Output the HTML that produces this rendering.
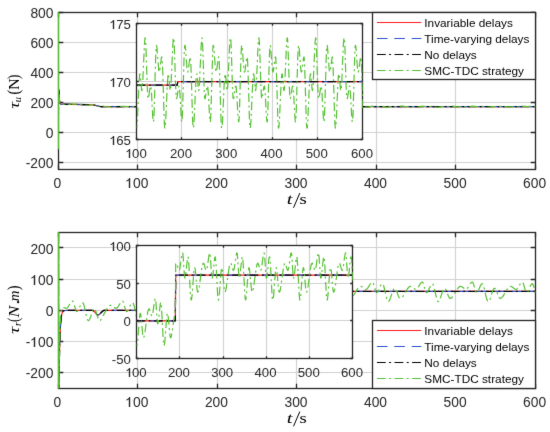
<!DOCTYPE html>
<html><head><meta charset="utf-8"><style>
html,body{margin:0;padding:0;background:#fff;}
svg{display:block;will-change:transform;}
</style></head><body>
<svg width="550" height="432" viewBox="0 0 550 432">
<defs>
<filter id="soft" x="0" y="0" width="550" height="432" filterUnits="userSpaceOnUse" color-interpolation-filters="sRGB"><feConvolveMatrix order="3" kernelMatrix="0.01 0.06 0.01 0.06 0.72 0.06 0.01 0.06 0.01" edgeMode="duplicate" preserveAlpha="true"/></filter>
<clipPath id="ctop"><rect x="58.2" y="12.2" width="477.2" height="157.5"/></clipPath>
<clipPath id="cbot"><rect x="58.2" y="232.3" width="477.2" height="156"/></clipPath>
<clipPath id="ctopin"><rect x="136.6" y="23.7" width="226.2" height="116"/></clipPath>
<clipPath id="cbotin"><rect x="136.5" y="245.7" width="216.3" height="112.65"/></clipPath>
</defs>
<g filter="url(#soft)">
<rect width="550" height="432" fill="#fff"/>
<line x1="137.5" y1="12.5" x2="137.5" y2="169.5" stroke="#d2d2d2" stroke-width="1.2"/>
<line x1="217.5" y1="12.5" x2="217.5" y2="169.5" stroke="#d2d2d2" stroke-width="1.2"/>
<line x1="296.5" y1="12.5" x2="296.5" y2="169.5" stroke="#d2d2d2" stroke-width="1.2"/>
<line x1="376.5" y1="12.5" x2="376.5" y2="169.5" stroke="#d2d2d2" stroke-width="1.2"/>
<line x1="455.5" y1="12.5" x2="455.5" y2="169.5" stroke="#d2d2d2" stroke-width="1.2"/>
<line x1="58.5" y1="162.5" x2="535.5" y2="162.5" stroke="#d2d2d2" stroke-width="1.2"/>
<line x1="58.5" y1="132.5" x2="535.5" y2="132.5" stroke="#d2d2d2" stroke-width="1.2"/>
<line x1="58.5" y1="102.5" x2="535.5" y2="102.5" stroke="#d2d2d2" stroke-width="1.2"/>
<line x1="58.5" y1="72.5" x2="535.5" y2="72.5" stroke="#d2d2d2" stroke-width="1.2"/>
<line x1="58.5" y1="42.5" x2="535.5" y2="42.5" stroke="#d2d2d2" stroke-width="1.2"/>
<path d="M58.5 169.5V164.7M58.5 12.5V17.3M137.5 169.5V164.7M137.5 12.5V17.3M217.5 169.5V164.7M217.5 12.5V17.3M296.5 169.5V164.7M296.5 12.5V17.3M376.5 169.5V164.7M376.5 12.5V17.3M455.5 169.5V164.7M455.5 12.5V17.3M535.5 169.5V164.7M535.5 12.5V17.3M58.5 162.5H63.3M535.5 162.5H530.7M58.5 132.5H63.3M535.5 132.5H530.7M58.5 102.5H63.3M535.5 102.5H530.7M58.5 72.5H63.3M535.5 72.5H530.7M58.5 42.5H63.3M535.5 42.5H530.7M58.5 12.5H63.3M535.5 12.5H530.7" stroke="#262626" stroke-width="1.3" fill="none"/>
<rect x="58.5" y="12.5" width="477" height="157" fill="none" stroke="#262626" stroke-width="1.3"/>
<g fill="none" stroke-width="1.2" stroke-linejoin="round" clip-path="url(#ctop)">
<defs><path id="n1" d="M58.2 90L59 90L59.4 99L59.8 102.3L60.2 103.5L60.6 104L61 104.1L92.4 104.8L94.4 105.1L99.6 106.5L101.5 106.7L535.4 106.7"/></defs>
<use href="#n1" stroke="#ff1a1a"/>
<use href="#n1" stroke="#2d50c8" stroke-dasharray="10.6 6.8" stroke-dashoffset="3"/>
<use href="#n1" stroke="#000000" stroke-dasharray="8.8 3.4 2.0 3.4" stroke-dashoffset="0"/>
<path d="M58.2 12.2L58.4 148.7L58.7 87.2L59 90.2L59.3 98.4L59.7 101.8L60 103.3L60.4 103.9L60.7 104.1L67.5 104.8L68.5 104.7L71.2 104L72.3 103.9L77.4 104.4L82.1 104.3L83.5 104.5L86.2 105.2L87.6 105.3L89.3 105.2L92 104.8L93 104.8L94.4 105L96.8 105.9L98.1 106.2L99.8 106.3L103.2 106.2L107.7 107L112.8 106.8L117.5 107.3L118.9 107.1L121.6 106.4L123 106.3L127.4 106.6L132.5 106.4L136.2 107.2L137.6 107.3L142.7 106.7L147.5 106.8L151.6 106.3L152.9 106.2L153.9 106.3L157.3 106.9L162.8 106.8L167.2 107.3L168.6 107.1L171 106.5L172.3 106.3L177.4 106.6L182.2 106.4L183.5 106.6L186.3 107.2L187.6 107.3L192.7 106.7L197.5 106.8L201.6 106.2L202.9 106.2L207.4 107L212.8 106.8L217.2 107.2L218.6 107.1L221.3 106.4L222.7 106.2L227.1 106.6L232.5 106.4L235.9 107.1L237.3 107.3L238.7 107.2L243.1 106.6L246.5 106.8L247.9 106.8L252.6 106.1L254 106.2L257.4 106.9L262.8 106.8L267.3 107.2L268.6 107.1L271 106.4L272.4 106.2L277.1 106.6L282.2 106.4L283.6 106.6L286 107.2L287.3 107.3L288.7 107.2L293.1 106.6L297.5 106.8L302.6 106.1L304 106.2L307.4 106.9L312.5 106.8L317.3 107.2L318.6 107.1L322 106.2L327.1 106.6L332.2 106.4L333.6 106.6L336 107.2L337.4 107.3L338.7 107.2L342.8 106.6L347.6 106.8L351.3 106.2L352.7 106.1L354 106.3L357.1 106.9L362.5 106.8L367 107.2L368.3 107.1L372.1 106.2L377.2 106.6L382.3 106.4L383.6 106.6L386 107.2L387.4 107.3L388.7 107.2L392.5 106.6L393.8 106.6L397.2 106.8L401.3 106.2L402.7 106.1L404 106.3L407.1 106.9L412.6 106.8L417 107.2L418.3 107.1L421.1 106.4L422.1 106.2L427.2 106.6L432.3 106.4L433.3 106.5L436 107.2L437.4 107.3L438.8 107.2L442.5 106.6L447.3 106.8L451.3 106.2L452.7 106.1L454.1 106.3L457.1 106.9L462.6 106.8L467 107.2L468.4 107.1L471.1 106.4L472.1 106.2L477.2 106.6L482 106.4L483.3 106.5L486.1 107.2L487.4 107.3L492.5 106.6L497.3 106.8L501.4 106.2L502.7 106.1L503.8 106.2L507.2 106.9L512.6 106.8L516.7 107.2L518 107.1L521.1 106.4L522.5 106.2L527.2 106.6L532.3 106.4L535.4 107.1" stroke="#55c032" stroke-dasharray="8.8 3.4 2.0 3.4" stroke-dashoffset="6"/>
</g>
<line x1="58.5" y1="12.2" x2="58.5" y2="148.3" stroke="#55c032" stroke-width="1.1"/>
<rect x="136.5" y="23.5" width="226" height="116" fill="#fff"/>
<line x1="181.5" y1="23.5" x2="181.5" y2="139.5" stroke="#d2d2d2" stroke-width="1.2"/>
<line x1="227.5" y1="23.5" x2="227.5" y2="139.5" stroke="#d2d2d2" stroke-width="1.2"/>
<line x1="272.5" y1="23.5" x2="272.5" y2="139.5" stroke="#d2d2d2" stroke-width="1.2"/>
<line x1="317.5" y1="23.5" x2="317.5" y2="139.5" stroke="#d2d2d2" stroke-width="1.2"/>
<line x1="136.5" y1="81.5" x2="362.5" y2="81.5" stroke="#d2d2d2" stroke-width="1.2"/>
<path d="M136.5 139.5V137.2M136.5 23.5V25.8M181.5 139.5V137.2M181.5 23.5V25.8M227.5 139.5V137.2M227.5 23.5V25.8M272.5 139.5V137.2M272.5 23.5V25.8M317.5 139.5V137.2M317.5 23.5V25.8M362.5 139.5V137.2M362.5 23.5V25.8M136.5 139.5H138.8M362.5 139.5H360.2M136.5 81.5H138.8M362.5 81.5H360.2M136.5 23.5H138.8M362.5 23.5H360.2" stroke="#262626" stroke-width="1.3" fill="none"/>
<rect x="136.5" y="23.5" width="226" height="116" fill="none" stroke="#262626" stroke-width="1.3"/>
<g fill="none" stroke-width="1.2" stroke-linejoin="round" clip-path="url(#ctopin)">
<defs><path id="n2" d="M136.6 85.2L177 85.2L177.2 85.1L177.8 81.7L362.8 81.7"/></defs>
<use href="#n2" stroke="#ff1a1a"/>
<use href="#n2" stroke="#2d50c8" stroke-dasharray="10.6 6.8" stroke-dashoffset="3"/>
<use href="#n2" stroke="#000000" stroke-dasharray="8.8 3.4 2.0 3.4" stroke-dashoffset="0"/>
<path d="M136.6 127.8L137 125L137.4 119.4L138.9 85.4L139.5 76.1L139.8 73.8L140 73.8L140.1 74.2L140.5 77.4L141.5 89.3L141.8 90.6L142 90.4L142.1 89.8L142.4 86.9L142.8 80.8L144.4 45.2L144.8 39.3L145 38L145.2 37.8L145.5 39.5L145.9 46.1L147.2 85.5L147.8 97.3L148 98.7L148.2 98.6L148.4 98L148.9 95.6L150.1 87.3L150.5 86L150.7 86L150.9 86.5L151.5 93L152.7 116.6L153.1 120.7L153.4 121.9L153.6 121.5L153.7 120.3L154.1 113.2L155.6 59L156 49.6L156.3 45.8L156.4 45.3L156.7 45.7L157 48.1L158.5 67.3L158.8 70.7L159.1 71.9L159.3 72L159.4 71.8L159.8 70.2L161.3 58.3L161.6 57.1L161.8 56.9L161.9 57.1L162.3 61.2L162.7 70L164.2 120L164.6 126.5L164.7 127.7L164.9 128.1L165 127.8L165.3 126.4L165.7 120.7L167.3 85.4L167.9 76.1L168.3 73.8L168.4 73.8L168.6 74.2L168.9 77.4L169.9 89.3L170.2 90.6L170.4 90.4L170.5 89.8L170.8 86.9L171.2 80.8L172.8 45.2L173.2 39.3L173.5 38L173.6 37.8L173.9 39.5L174.3 46.1L175.6 85.5L176.2 97.4L176.4 98.7L176.6 98.6L176.9 98L177.3 95.6L178.5 87.3L179 86L179.1 86L179.3 86.5L179.9 93.1L181.2 116.7L181.5 120.7L181.8 121.9L182 121.5L182.1 120.3L182.5 113.2L184 59L184.4 49.6L184.7 45.8L184.9 45.3L185.1 45.7L185.5 48.2L186.9 67.3L187.3 70.7L187.6 71.9L187.7 72L187.9 71.8L188.2 70.2L189.8 58.3L190.1 57.1L190.2 56.9L190.4 57.1L190.7 61.2L191.1 70L192.6 120L193 126.5L193.2 127.7L193.3 128.1L193.5 127.8L193.7 126.4L194.1 120.7L195.7 85.4L196.3 76.1L196.7 73.8L196.8 73.8L197 74.3L197.4 77.4L198.4 89.4L198.7 90.6L198.8 90.4L199 89.8L199.3 86.9L199.6 80.8L201.2 45.1L201.7 39.3L201.9 38L202 37.8L202.3 39.5L202.7 46.2L204 85.5L204.6 97.4L204.8 98.7L205.1 98.6L205.3 98L205.7 95.6L206.9 87.3L207.4 86L207.6 86L207.7 86.5L208.3 93.1L209.6 116.7L210 120.7L210.3 121.9L210.4 121.5L210.6 120.2L210.9 113.1L212.5 58.9L212.8 49.5L213.1 45.8L213.3 45.3L213.5 45.7L213.9 48.2L215.3 67.3L215.7 70.7L216 71.9L216.1 72L216.3 71.8L216.7 70.2L218.2 58.3L218.5 57.1L218.6 56.9L218.8 57.1L219.2 61.2L219.5 70L221 120L221.4 126.5L221.6 127.8L221.7 128.1L221.9 127.8L222.1 126.4L222.6 120.6L224.1 85.4L224.7 76.1L225.1 73.8L225.3 73.8L225.4 74.3L225.8 77.4L226.8 89.4L227.1 90.6L227.2 90.4L227.4 89.8L227.7 86.9L228.1 80.8L229.6 45.1L230.1 39.3L230.3 38L230.5 37.8L230.8 39.6L231.2 46.2L232.4 85.6L233 97.4L233.3 98.7L233.5 98.6L233.7 98L234.2 95.6L235.4 87.3L235.8 86L236 86L236.1 86.5L236.7 93.1L238 116.7L238.4 120.7L238.7 121.9L238.8 121.5L239 120.2L239.4 113.1L240.9 58.9L241.3 49.5L241.6 45.4L241.8 45.3L241.9 45.7L242.3 48.2L243.7 67.3L244 70.2L244.3 71.8L244.5 72L244.7 71.8L245.1 70.2L246.7 57.9L246.9 57.1L247.1 56.9L247.4 58.1L248 70L249.4 118.2L249.8 125.6L250 127.8L250.2 128.1L250.3 127.8L250.5 126.4L251 120.6L252.6 85.4L253.2 76.1L253.5 73.8L253.7 73.8L253.8 74.3L254.2 77.4L255.2 89.4L255.5 90.6L255.7 90.4L255.8 89.7L256.1 86.9L256.5 80.8L258.1 45.1L258.5 39.3L258.7 38L258.9 37.8L259.2 39.6L259.6 46.2L260.9 85.6L261.5 97.4L261.7 98.7L261.9 98.6L262.1 98L262.6 95.6L263.8 87.3L264.3 86L264.4 86.1L264.6 86.5L265.2 93.1L266.4 116.7L266.8 120.8L267.1 121.9L267.3 121.5L267.4 120.2L267.8 113.1L269.3 58.9L269.7 49.5L270.1 45.4L270.2 45.3L270.4 45.7L270.7 48.2L272.2 67.3L272.5 70.2L272.8 71.8L272.9 72L273.1 71.8L273.5 70.2L275.1 57.9L275.3 57.1L275.6 56.9L275.8 58.1L276.4 70.1L277.8 118.2L278.2 125.6L278.4 127.8L278.6 128.1L278.7 127.8L279 126.4L279.4 120.6L281 85.4L281.6 76.1L282 73.8L282.1 73.8L282.3 74.3L282.6 77.4L283.6 89.4L283.9 90.6L284.1 90.4L284.2 89.7L284.5 86.9L284.9 80.8L286.5 45.1L286.9 39.3L287.2 38L287.3 37.8L287.6 39.6L288 46.2L289.3 85.6L289.9 97.4L290.1 98.7L290.3 98.6L290.6 98L291 95.6L292.2 87.3L292.7 86L292.8 86.1L293 86.5L293.6 93.1L294.9 116.7L295.2 120.8L295.5 121.9L295.7 121.5L295.8 120.2L296.2 113.1L297.7 58.9L298.1 49.5L298.5 45.4L298.6 45.3L298.8 45.7L299.2 48.2L300.6 67.4L300.9 70.2L301.2 71.8L301.3 72L301.6 71.7L302 70.2L303.5 57.9L303.8 57.1L304 56.9L304.2 58.1L304.8 70.1L306.2 118.2L306.6 125.7L306.9 127.8L307 128.1L307.2 127.8L307.4 126.4L307.8 120.6L309.4 85.3L310 76.1L310.4 73.8L310.5 73.8L310.7 74.3L311.1 77.4L312.1 89.4L312.4 90.6L312.5 90.4L312.7 89.7L313 86.9L313.3 80.8L314.9 45.1L315.4 39.3L315.6 38L315.8 37.8L316.1 39.6L316.4 46.2L317.7 85.6L318.3 97.4L318.5 98.7L318.8 98.6L319 98L319.4 95.6L320.7 87.3L321.1 86L321.3 86.1L321.4 86.5L322 93.1L323.3 116.7L323.6 120.2L323.9 121.8L324 121.8L324.1 121.5L324.3 120.2L324.6 113.1L326.2 58.9L326.5 49.5L326.9 45.4L327.1 45.3L327.2 45.7L327.6 48.2L329 67.4L329.3 70.2L329.6 71.8L329.8 72L330 71.7L330.4 70.2L332 57.9L332.2 57.1L332.4 56.9L332.6 58.1L333.2 70.1L334.7 118.2L335.1 125.7L335.3 127.8L335.4 128.1L335.8 126.4L336.3 120.6L337.8 85.3L338.4 76.1L338.8 73.8L339 73.8L339.1 74.3L339.5 77.5L340.5 89.4L340.8 90.6L340.9 90.4L341.1 89.7L341.4 86.9L341.8 80.7L343.3 45.1L343.8 39.3L344 38L344.2 37.8L344.5 39.6L344.9 46.2L346.1 85.6L346.7 97.4L347 98.7L347.2 98.6L347.4 98L347.9 95.6L349.1 87.3L349.5 86L349.7 86.1L349.8 86.5L350.4 93.1L351.7 116.7L352.2 121.6L352.4 121.9L352.5 121.8L352.6 121L353 114.9L354.7 56.6L355 48.2L355.3 45.7L355.4 45.3L355.7 46L356.1 48.9L357.4 67.4L357.7 70.2L358 71.8L358.2 72L358.4 71.7L358.8 70.1L360.4 57.9L360.6 57.1L360.8 56.9L361.1 58.1L361.7 70.1L362.8 109.4" stroke="#55c032" stroke-dasharray="8.8 3.4 2.0 3.4" stroke-dashoffset="6"/>
</g>
<rect x="372.5" y="12.5" width="163" height="67" fill="#fff" stroke="#262626" stroke-width="1.3"/>
<line x1="376.9" y1="22.5" x2="421.3" y2="22.5" stroke="#ff1a1a" stroke-width="1.1"/>
<text x="424.3" y="26.65" font-size="11.8" fill="#000" font-family="Liberation Sans, sans-serif">Invariable delays</text>
<line x1="376.9" y1="38.5" x2="421.3" y2="38.5" stroke="#2d50c8" stroke-width="1.1" stroke-dasharray="10.6 6.8"/>
<text x="424.3" y="42.7" font-size="11.8" fill="#000" font-family="Liberation Sans, sans-serif">Time-varying delays</text>
<line x1="376.9" y1="54.5" x2="421.3" y2="54.5" stroke="#000000" stroke-width="1.1" stroke-dasharray="8.8 3.4 2.0 3.4"/>
<text x="424.3" y="58.75" font-size="11.8" fill="#000" font-family="Liberation Sans, sans-serif">No delays</text>
<line x1="376.9" y1="70.5" x2="421.3" y2="70.5" stroke="#55c032" stroke-width="1.1" stroke-dasharray="8.8 3.4 2.0 3.4"/>
<text x="424.3" y="74.8" font-size="11.8" fill="#000" font-family="Liberation Sans, sans-serif">SMC-TDC strategy</text>
<line x1="137.5" y1="232.5" x2="137.5" y2="388.5" stroke="#d2d2d2" stroke-width="1.2"/>
<line x1="217.5" y1="232.5" x2="217.5" y2="388.5" stroke="#d2d2d2" stroke-width="1.2"/>
<line x1="296.5" y1="232.5" x2="296.5" y2="388.5" stroke="#d2d2d2" stroke-width="1.2"/>
<line x1="376.5" y1="232.5" x2="376.5" y2="388.5" stroke="#d2d2d2" stroke-width="1.2"/>
<line x1="455.5" y1="232.5" x2="455.5" y2="388.5" stroke="#d2d2d2" stroke-width="1.2"/>
<line x1="58.5" y1="372.5" x2="535.5" y2="372.5" stroke="#d2d2d2" stroke-width="1.2"/>
<line x1="58.5" y1="341.5" x2="535.5" y2="341.5" stroke="#d2d2d2" stroke-width="1.2"/>
<line x1="58.5" y1="310.5" x2="535.5" y2="310.5" stroke="#d2d2d2" stroke-width="1.2"/>
<line x1="58.5" y1="279.5" x2="535.5" y2="279.5" stroke="#d2d2d2" stroke-width="1.2"/>
<line x1="58.5" y1="247.5" x2="535.5" y2="247.5" stroke="#d2d2d2" stroke-width="1.2"/>
<path d="M58.5 388.5V383.7M58.5 232.5V237.3M137.5 388.5V383.7M137.5 232.5V237.3M217.5 388.5V383.7M217.5 232.5V237.3M296.5 388.5V383.7M296.5 232.5V237.3M376.5 388.5V383.7M376.5 232.5V237.3M455.5 388.5V383.7M455.5 232.5V237.3M535.5 388.5V383.7M535.5 232.5V237.3M58.5 372.5H63.3M535.5 372.5H530.7M58.5 341.5H63.3M535.5 341.5H530.7M58.5 310.5H63.3M535.5 310.5H530.7M58.5 279.5H63.3M535.5 279.5H530.7M58.5 247.5H63.3M535.5 247.5H530.7" stroke="#262626" stroke-width="1.3" fill="none"/>
<rect x="58.5" y="232.5" width="477" height="156" fill="none" stroke="#262626" stroke-width="1.3"/>
<g fill="none" stroke-width="1.2" stroke-linejoin="round" clip-path="url(#cbot)">
<defs><path id="n3" d="M58.2 393.3L58.8 393.3L59.6 348L60 335.2L60.6 323.6L61.2 317.4L61.6 315L62 313.4L62.4 312.3L63 311.4L63.6 310.9L64.6 310.5L67.9 310.3L92.6 310.3L93.2 310.6L93.8 311L96.8 314.4L97.4 314.8L98 315L98.8 314.8L99.6 314.2L102.9 310.9L103.7 310.4L104.3 310.3L209.1 310.3L209.3 307.3L209.7 292.2L209.9 291.4L535.4 291.4"/></defs>
<use href="#n3" stroke="#ff1a1a"/>
<use href="#n3" stroke="#2d50c8" stroke-dasharray="10.6 6.8" stroke-dashoffset="3"/>
<use href="#n3" stroke="#000000" stroke-dasharray="8.8 3.4 2.0 3.4" stroke-dashoffset="0"/>
<path d="M58.2 393.3L58.4 227.3L58.6 393.3L58.8 227.3L59 393.3L59.2 369.9L59.7 340.1L60.3 322.8L60.7 316.6L61.1 312.8L61.7 309.5L62.1 308.4L62.5 307.8L62.9 307.5L63.3 307.4L65.7 308.3L66.3 308.3L66.9 308.1L67.5 307.5L68.1 306.8L70.9 302.2L71.7 301.4L72.3 301.1L72.8 301.1L73.4 302.1L74 303.9L75.6 309.7L76.2 311.1L76.6 311.5L76.8 311.5L77.4 311.3L78.2 310.3L80.6 304.9L81.4 303.5L82.2 302.7L82.6 302.7L83 302.9L83.6 304.1L84.2 306L86.9 318.1L87.7 320.1L88.3 320.6L88.7 320.5L89.1 320.2L89.9 318.8L90.7 316.7L92.5 311.1L93.1 309.6L93.5 309L93.9 308.7L94.5 308.7L95.1 309.4L95.7 310.7L97.7 317.1L98.4 319.3L99.2 320.6L99.8 320.8L100.4 320.4L101.2 319.4L104 314.1L106.8 309.1L108 307.3L109.2 306L109.8 305.6L110.4 305.4L111.3 305.4L112.3 305.9L114.9 307.9L115.7 308.3L116.5 308.2L117.1 307.9L117.9 307L120.9 302.2L121.7 301.4L122.3 301.1L122.7 301.1L122.9 301.2L123.4 302.2L125.6 309.8L126.2 311.1L126.6 311.5L127 311.5L127.4 311.3L128.2 310.2L130.6 304.8L131.4 303.4L132.2 302.7L132.6 302.7L133 303L133.6 304.2L134.2 306.1L136.9 318.2L137.7 320.1L138.3 320.6L138.7 320.5L139.1 320.1L139.9 318.7L140.7 316.6L142.9 309.8L143.7 308.1L144.5 307.3L145.1 307.2L145.5 307.6L145.9 308.1L146.7 309.8L148.8 315.7L149.6 317L150 317.3L150.4 317.3L151 317.2L151.6 316.9L152.8 315.7L154 314L157.8 307.5L159 306.1L160 305.5L160.8 305.3L161.5 305.5L162.3 305.9L164.9 308L165.7 308.3L166.5 308.2L167.1 307.9L167.9 307L170.3 303L171.1 301.9L171.9 301.2L172.7 301.1L173.1 301.5L173.7 302.8L175.8 310.4L176.4 311.4L176.8 311.5L177.4 311.2L178.2 310.2L180.4 305.2L181.2 303.7L182 302.8L182.6 302.7L183.2 303.3L184 305.5L186.9 318.3L187.7 320.2L188.1 320.6L188.3 320.6L188.9 320.3L189.7 319.1L190.5 317.1L192.9 309.8L193.7 308.1L194.1 307.5L194.5 307.2L194.9 307.2L195.3 307.4L196.1 308.5L198.7 315.3L199.6 317L200.2 317.3L200.8 317.2L201.6 316.8L202.4 316.1L204 313.9L207.4 308.1L208.2 307L209.2 305.9L209.8 286.7L210 286.5L210.6 286.4L211.6 286.5L212.3 287L214.9 289L215.7 289.3L216.5 289.3L217.1 288.9L217.9 288L220.9 283.2L221.7 282.4L222.5 282.1L222.9 282.3L223.5 283.4L225.6 291L226.2 292.3L226.6 292.6L227 292.5L227.4 292.3L228.2 291.2L230.4 286.2L231.4 284.4L232.2 283.8L232.6 283.8L233 284.1L233.6 285.4L234.2 287.4L236.2 296.4L237 299.4L237.7 301.3L238.1 301.6L238.3 301.7L238.7 301.5L239.1 301.1L239.9 299.6L242.9 290.7L243.7 289.1L244.3 288.4L244.9 288.3L245.3 288.5L245.7 289L246.5 290.5L248.3 295.5L249.1 297.3L249.9 298.3L250.2 298.4L250.6 298.3L251.2 298.1L251.8 297.7L253 296.4L254.2 294.6L257.4 289.1L258.4 287.8L259.4 286.8L260.4 286.4L261.4 286.5L262.4 287L264.9 289.1L265.7 289.3L266.5 289.3L267.1 288.9L267.9 287.9L270.9 283.1L271.7 282.4L272.5 282.1L272.9 282.3L273.5 283.5L275.6 291.1L276.2 292.3L276.6 292.6L277 292.5L277.4 292.2L278.2 291.1L280.4 286.1L281.2 284.6L282 283.8L282.4 283.7L282.8 283.9L283.4 285L284 286.8L286.2 296.6L287 299.5L287.8 301.3L288 301.5L288.3 301.7L288.9 301.3L289.7 300L290.5 298L292.9 290.7L293.7 289L294.3 288.4L294.9 288.3L295.3 288.5L295.7 289L296.5 290.6L298.3 295.6L299.1 297.3L299.9 298.3L300.7 298.3L301.2 298.1L301.8 297.7L303 296.4L304.2 294.5L307.4 289L308.4 287.7L309.2 287L309.8 286.6L310.4 286.4L311.4 286.5L312.4 287.1L314.7 289L315.5 289.3L316.3 289.3L316.9 289L317.7 288.2L320.9 283.1L321.7 282.3L322.5 282.1L322.9 282.4L323.5 283.6L325.7 291.2L326.2 292.4L326.6 292.6L327.2 292.4L328 291.4L330.4 286L331.2 284.6L332 283.8L332.4 283.7L332.8 284L333.4 285.1L334 286.9L336.8 299L337.6 301.1L338.2 301.6L338.6 301.6L338.9 301.3L339.7 299.9L340.5 297.9L342.9 290.6L343.7 289L344.3 288.4L344.7 288.2L345.1 288.4L345.9 289.4L346.7 291.2L348.5 296.1L349.3 297.7L349.9 298.3L350.7 298.3L351.8 297.7L353 296.3L354.2 294.5L357.2 289.3L358.2 287.9L359.2 286.9L360.2 286.4L360.8 286.4L361.4 286.5L362.4 287.1L364.7 289L365.5 289.3L366.3 289.3L366.9 289L367.7 288.1L370.9 283L371.7 282.3L372.3 282.1L372.7 282.2L373.3 283.2L373.9 284.9L375.5 290.7L376.1 292.1L376.5 292.6L376.7 292.6L377.2 292.4L378 291.3L380.4 286L381.2 284.5L382 283.8L382.4 283.7L382.8 284L383.4 285.1L384 287L386.8 299.1L387.6 301.1L388.2 301.7L388.6 301.6L389 301.2L389.7 299.9L390.5 297.8L392.9 290.5L393.7 288.9L394.3 288.3L394.7 288.2L395.1 288.4L395.9 289.5L396.7 291.3L398.3 295.7L399.1 297.4L399.5 298L399.9 298.3L400.7 298.3L401.7 297.8L402.8 296.5L404 294.7L407.2 289.2L408.2 287.9L409.2 286.9L410.2 286.4L411.2 286.5L412.2 287L414.8 289L415.5 289.3L416.3 289.3L416.9 288.9L417.7 288.1L420.1 284.1L420.9 283L421.7 282.3L422.3 282.1L422.7 282.2L423.3 283.2L425.5 290.8L426.1 292.2L426.5 292.6L426.9 292.6L427.3 292.3L428 291.3L430.4 285.9L431.2 284.5L432 283.8L432.4 283.7L432.8 284L433.4 285.2L434 287.2L436.8 299.2L437.6 301.2L438.2 301.7L438.6 301.5L439 301.2L439.8 299.8L440.5 297.7L442.7 290.9L443.5 289.2L444.3 288.3L444.7 288.2L445.1 288.4L445.9 289.5L446.7 291.4L448.3 295.8L449.1 297.5L449.7 298.2L450.1 298.4L450.5 298.4L451.1 298.1L451.7 297.8L452.9 296.5L454 294.7L457.2 289.2L458.2 287.8L459.2 286.9L460.2 286.4L461.2 286.5L462.2 287L464.8 289L465.6 289.3L466.3 289.3L466.9 288.9L467.7 288L470.1 284L470.9 283L471.7 282.3L472.3 282.1L472.7 282.3L473.3 283.3L475.5 290.9L476.1 292.2L476.5 292.6L476.9 292.6L477.3 292.3L478.1 291.2L480.4 285.8L481.2 284.4L482 283.8L482.4 283.7L482.8 284.1L483.4 285.3L484 287.3L486 296.3L486.8 299.3L487.6 301.2L488 301.6L488.2 301.7L488.8 301.4L489.6 300.1L490.4 298.2L492.7 290.8L493.5 289.1L493.9 288.6L494.3 288.3L494.7 288.3L495.1 288.5L495.9 289.6L498.3 295.9L499.1 297.5L499.7 298.2L500.1 298.4L500.5 298.3L501.1 298.1L501.7 297.7L502.9 296.4L504 294.6L507.2 289.1L508.2 287.8L509.2 286.9L510.2 286.4L511.2 286.5L512.2 287L514.8 289L515.6 289.3L516.4 289.3L516.9 288.9L517.7 288L520.7 283.2L521.5 282.4L522.1 282.1L522.5 282.1L522.7 282.3L523.3 283.4L525.5 291L526.1 292.3L526.5 292.6L526.9 292.5L527.3 292.3L528.1 291.2L530.2 286.2L531 284.7L531.8 283.8L532.2 283.7L532.6 283.9L533.2 284.9L533.8 286.7L535.4 293.7" stroke="#55c032" stroke-dasharray="8.8 3.4 2.0 3.4" stroke-dashoffset="6"/>
</g>
<line x1="58.5" y1="232.3" x2="58.5" y2="388.3" stroke="#55c032" stroke-width="1.1"/>
<rect x="136.5" y="245.5" width="216" height="113" fill="#fff"/>
<line x1="179.5" y1="245.5" x2="179.5" y2="358.5" stroke="#d2d2d2" stroke-width="1.2"/>
<line x1="223.5" y1="245.5" x2="223.5" y2="358.5" stroke="#d2d2d2" stroke-width="1.2"/>
<line x1="266.5" y1="245.5" x2="266.5" y2="358.5" stroke="#d2d2d2" stroke-width="1.2"/>
<line x1="309.5" y1="245.5" x2="309.5" y2="358.5" stroke="#d2d2d2" stroke-width="1.2"/>
<line x1="136.5" y1="320.5" x2="352.5" y2="320.5" stroke="#d2d2d2" stroke-width="1.2"/>
<line x1="136.5" y1="283.5" x2="352.5" y2="283.5" stroke="#d2d2d2" stroke-width="1.2"/>
<path d="M136.5 358.5V356.2M136.5 245.5V247.8M179.5 358.5V356.2M179.5 245.5V247.8M223.5 358.5V356.2M223.5 245.5V247.8M266.5 358.5V356.2M266.5 245.5V247.8M309.5 358.5V356.2M309.5 245.5V247.8M352.5 358.5V356.2M352.5 245.5V247.8M136.5 358.5H138.8M352.5 358.5H350.2M136.5 320.5H138.8M352.5 320.5H350.2M136.5 283.5H138.8M352.5 283.5H350.2M136.5 245.5H138.8M352.5 245.5H350.2" stroke="#262626" stroke-width="1.3" fill="none"/>
<rect x="136.5" y="245.5" width="216" height="113" fill="none" stroke="#262626" stroke-width="1.3"/>
<g fill="none" stroke-width="1.2" stroke-linejoin="round" clip-path="url(#cbotin)">
<defs><path id="n4" d="M136.5 320.8L175.3 320.8L175.7 275.2L352.8 275.2"/></defs>
<use href="#n4" stroke="#ff1a1a"/>
<use href="#n4" stroke="#2d50c8" stroke-dasharray="10.6 6.8" stroke-dashoffset="3"/>
<use href="#n4" stroke="#000000" stroke-dasharray="8.8 3.4 2.0 3.4" stroke-dashoffset="0"/>
<path d="M136.5 344.4L136.7 345.4L136.8 345.6L136.9 345.5L137.2 344.6L137.5 342.7L138 337.4L139.4 318.8L139.8 315L140.2 313.5L140.4 313.3L140.6 313.8L141 316.5L142.8 335.6L143.1 337.4L143.3 337.7L143.6 337.6L143.9 337.1L144.2 336L144.9 332.8L147.2 315.2L147.7 312.2L148.3 310.1L148.8 308.9L149.1 308.8L149.4 309.1L149.9 310.3L151.3 315.2L151.7 315.9L151.9 316L152.1 315.8L152.5 314.8L152.9 312.6L154.6 300.8L155 299L155.4 298.5L155.6 298.9L155.9 301.1L157.1 319.8L157.4 322.7L157.7 323.8L157.8 323.7L158.1 323.2L158.5 320.7L160.2 304.3L160.5 302.9L160.7 302.4L160.9 302.4L160.9 302.6L161.1 303.1L161.7 310.6L163.2 339.7L163.6 343.9L163.9 345.4L164 345.6L164.1 345.5L164.3 345L164.8 342.1L166.6 318.8L167 315L167.4 313.3L167.6 313.3L167.8 313.8L168.2 316.5L170 335.6L170.4 337.6L170.5 337.7L170.7 337.6L171 337.3L171.5 335.4L172.1 332.4L174.4 315.7L175.4 310.1L175.7 263.7L176.2 263.2L176.4 263.3L176.7 263.6L177.1 264.8L178.5 269.6L178.9 270.3L179.1 270.4L179.3 270.2L179.7 269.2L180.1 267L181.8 255.2L182.2 253.4L182.6 252.9L182.8 253.3L183.1 255.5L184.3 274.2L184.6 277.1L184.9 278.2L185 278.1L185.2 277.6L185.7 275.1L187.4 258.7L187.7 257.3L187.9 256.9L188.1 256.8L188.1 257L188.3 257.6L188.9 265L190.4 294.1L190.9 298.8L191.1 299.8L191.2 300L191.6 299L192 295.8L193.7 274.1L194.1 269.9L194.5 268L194.7 267.7L194.8 267.8L195.3 269.8L197 288.9L197.4 291.6L197.6 292.1L197.9 292L198.2 291.5L198.6 290.4L199.2 287.3L201.6 269.6L202.1 266.6L202.6 264.5L203.2 263.3L203.5 263.2L203.8 263.5L204.3 264.8L205.6 269.6L206.1 270.3L206.3 270.4L206.5 270.2L206.9 269.2L207.3 267L209 255.2L209.4 253.4L209.8 252.9L210 253.3L210.3 255.5L211.5 274.3L211.8 277.1L212.1 278.2L212.2 278.1L212.4 277.6L212.9 275.1L214.6 258.7L214.9 257.3L215.1 256.9L215.2 256.8L215.3 257L215.4 257.6L216.1 265L217.6 294.2L218 298.8L218.3 299.9L218.4 300L218.8 299L219.2 295.8L220.9 274L221.3 269.9L221.7 268L221.9 267.7L222 267.8L222.4 269.8L224.2 288.9L224.6 291.6L224.8 292.1L225.1 292L225.7 290.7L226.3 287.7L228.8 269.6L229.3 266.6L229.8 264.5L230.4 263.3L230.7 263.2L231 263.5L231.5 264.8L232.8 269.6L233.3 270.3L233.5 270.4L233.7 270.2L234.1 269.2L234.5 267L236.1 255.2L236.6 253.4L236.9 252.9L237.2 253.3L237.4 255.5L238.7 274.3L239 277.1L239.2 278.2L239.4 278.1L239.6 277.6L240 275.1L241.8 258.7L242.1 257.3L242.3 256.9L242.4 256.8L242.5 257L242.6 257.6L243.3 265L244.8 294.2L245.2 298.3L245.5 300L245.7 299.8L245.9 299L246.4 295.8L248 274L248.5 269.9L248.8 268L249 267.7L249.2 267.8L249.6 269.8L251.4 288.9L251.8 291.6L252 292.1L252.3 292L252.9 290.7L253.5 287.7L256 269.6L256.5 266.6L257 264.5L257.6 263.3L257.8 263.2L258.1 263.5L258.6 264.8L260 269.6L260.4 270.3L260.7 270.4L260.9 270.2L261.2 269.2L261.7 267L263.3 255.2L263.8 253.4L264.1 252.9L264.3 253.3L264.6 255.5L265.8 274.3L266.1 277.1L266.4 278.2L266.6 278.1L266.8 277.6L267.2 275.1L268.9 258.7L269.2 257.3L269.5 256.9L269.6 256.8L269.7 257L269.8 257.6L270.5 265L272 294.2L272.3 298.3L272.7 300L272.9 299.8L273.1 299L273.6 295.8L275.2 274L275.7 269.9L276 268L276.2 267.7L276.4 267.8L276.8 269.8L278.5 288.9L279 291.6L279.2 292.1L279.5 292L280.1 290.7L280.7 287.7L283.2 269.6L283.7 266.6L284.2 264.5L284.7 263.3L285 263.2L285.3 263.5L285.8 264.8L287.2 269.6L287.6 270.3L287.8 270.4L288.1 270.2L288.4 269.2L288.8 267L290.5 255.2L290.9 253.4L291.3 252.9L291.5 253.3L291.8 255.5L293 274.3L293.3 277.1L293.6 278.2L293.8 278.1L294 277.6L294.4 275.1L296.1 258.7L296.4 257.3L296.6 256.9L296.8 256.8L296.9 257L297 257.6L297.6 265L299.2 294.2L299.5 298.3L299.9 300L300.1 299.8L300.3 299L300.7 295.8L302.4 274L302.8 269.9L303.2 268L303.4 267.7L303.6 267.8L304 269.8L305.7 288.9L306.2 291.6L306.4 292.1L306.7 292L307.2 290.7L307.9 287.7L310.3 269.6L310.8 266.6L311.3 264.5L311.9 263.3L312.2 263.2L312.5 263.5L313 264.8L314.4 269.6L314.8 270.3L315 270.4L315.2 270.2L315.6 269.2L316 267L317.7 255.2L318.1 253.4L318.5 252.9L318.7 253.3L319 255.5L320.2 274.3L320.5 277.1L320.8 278.2L320.9 278.1L321.1 277.6L321.6 275.1L323.3 258.7L323.6 257.3L323.8 256.9L324 256.8L324 257L324.2 257.6L324.8 265.1L326.3 294.2L326.7 298.3L327.1 300L327.3 299.8L327.5 299L327.9 295.8L329.6 274L330 269.9L330.4 268L330.6 267.7L330.7 267.8L331.2 269.8L332.9 288.9L333.3 291.6L333.5 292.1L333.8 292L334.4 290.7L335.1 287.7L337.5 269.6L338 266.6L338.5 264.5L339.1 263.3L339.4 263.2L339.7 263.5L340.2 264.8L341.6 269.6L342 270.3L342.2 270.4L342.4 270.2L342.8 269.2L343.2 267L344.8 255.5L345.2 253.6L345.6 252.9L345.7 252.9L345.9 253.3L346.2 255.5L347.4 274.3L347.7 277.1L348 278.2L348.1 278.1L348.3 277.6L348.8 275.1L350.5 258.7L350.9 257L351.1 256.8L351.3 257.2L351.6 259.3L351.9 263.9L352.8 280.8" stroke="#55c032" stroke-dasharray="8.8 3.4 2.0 3.4" stroke-dashoffset="6"/>
</g>
<rect x="372.5" y="320.5" width="163" height="68" fill="#fff" stroke="#262626" stroke-width="1.3"/>
<line x1="376.9" y1="330.5" x2="421.3" y2="330.5" stroke="#ff1a1a" stroke-width="1.1"/>
<text x="424.3" y="334.65" font-size="11.8" fill="#000" font-family="Liberation Sans, sans-serif">Invariable delays</text>
<line x1="376.9" y1="346.5" x2="421.3" y2="346.5" stroke="#2d50c8" stroke-width="1.1" stroke-dasharray="10.6 6.8"/>
<text x="424.3" y="350.7" font-size="11.8" fill="#000" font-family="Liberation Sans, sans-serif">Time-varying delays</text>
<line x1="376.9" y1="362.5" x2="421.3" y2="362.5" stroke="#000000" stroke-width="1.1" stroke-dasharray="8.8 3.4 2.0 3.4"/>
<text x="424.3" y="366.75" font-size="11.8" fill="#000" font-family="Liberation Sans, sans-serif">No delays</text>
<line x1="376.9" y1="378.5" x2="421.3" y2="378.5" stroke="#55c032" stroke-width="1.1" stroke-dasharray="8.8 3.4 2.0 3.4"/>
<text x="424.3" y="382.8" font-size="11.8" fill="#000" font-family="Liberation Sans, sans-serif">SMC-TDC strategy</text>
<g font-family="Liberation Sans, sans-serif">
<text x="25.78" y="167.9" font-size="13.8" fill="#262626">-200</text>
<text x="45.73" y="137.9" font-size="13.8" fill="#262626">0</text>
<text x="30.38" y="107.9" font-size="13.8" fill="#262626">200</text>
<text x="30.38" y="77.9" font-size="13.8" fill="#262626">400</text>
<text x="30.38" y="47.9" font-size="13.8" fill="#262626">600</text>
<text x="30.38" y="17.9" font-size="13.8" fill="#262626">800</text>
<text x="53.56" y="188" font-size="13.8" fill="#262626">0</text>
<text x="125.42" y="188" font-size="13.8" fill="#262626"> 00</text>
<path d="M778 0L568 0L568 1090C527 1052 470 1012 404 975C339 939 277 910 218 889L218 1062C318 1106 404 1160 478 1221C552 1283 606 1345 642 1409L778 1409Z" fill="#262626" transform="translate(124.97 188) scale(0.006738 -0.007062)"/>
<text x="204.95" y="188" font-size="13.8" fill="#262626">200</text>
<text x="284.49" y="188" font-size="13.8" fill="#262626">300</text>
<text x="364.02" y="188" font-size="13.8" fill="#262626">400</text>
<text x="443.55" y="188" font-size="13.8" fill="#262626">500</text>
<text x="523.09" y="188" font-size="13.8" fill="#262626">600</text>
<text x="108.88" y="144.6" font-size="13.2" fill="#262626"> 65</text>
<path d="M778 0L568 0L568 1090C527 1052 470 1012 404 975C339 939 277 910 218 889L218 1062C318 1106 404 1160 478 1221C552 1283 606 1345 642 1409L778 1409Z" fill="#262626" transform="translate(109.16 145) scale(0.006445 -0.006352)"/>
<text x="108.88" y="86.6" font-size="13.2" fill="#262626"> 70</text>
<path d="M778 0L568 0L568 1090C527 1052 470 1012 404 975C339 939 277 910 218 889L218 1062C318 1106 404 1160 478 1221C552 1283 606 1345 642 1409L778 1409Z" fill="#262626" transform="translate(109.16 87) scale(0.006445 -0.006352)"/>
<text x="108.88" y="28.6" font-size="13.2" fill="#262626"> 75</text>
<path d="M778 0L568 0L568 1090C527 1052 470 1012 404 975C339 939 277 910 218 889L218 1062C318 1106 404 1160 478 1221C552 1283 606 1345 642 1409L778 1409Z" fill="#262626" transform="translate(109.16 29) scale(0.006445 -0.006352)"/>
<text x="124.79" y="158.3" font-size="13.2" fill="#262626"> 00</text>
<path d="M778 0L568 0L568 1090C527 1052 470 1012 404 975C339 939 277 910 218 889L218 1062C318 1106 404 1160 478 1221C552 1283 606 1345 642 1409L778 1409Z" fill="#262626" transform="translate(125.16 158) scale(0.006445 -0.006352)"/>
<text x="170.03" y="158.3" font-size="13.2" fill="#262626">200</text>
<text x="215.27" y="158.3" font-size="13.2" fill="#262626">300</text>
<text x="260.51" y="158.3" font-size="13.2" fill="#262626">400</text>
<text x="305.75" y="158.3" font-size="13.2" fill="#262626">500</text>
<text x="350.99" y="158.3" font-size="13.2" fill="#262626">600</text>
<text x="25.78" y="378.4" font-size="13.8" fill="#262626">-200</text>
<text x="25.78" y="347.2" font-size="13.8" fill="#262626">- 00</text>
<path d="M778 0L568 0L568 1090C527 1052 470 1012 404 975C339 939 277 910 218 889L218 1062C318 1106 404 1160 478 1221C552 1283 606 1345 642 1409L778 1409Z" fill="#262626" transform="translate(29.97 347) scale(0.006738 -0.007062)"/>
<text x="45.73" y="316" font-size="13.8" fill="#262626">0</text>
<text x="30.38" y="284.8" font-size="13.8" fill="#262626"> 00</text>
<path d="M778 0L568 0L568 1090C527 1052 470 1012 404 975C339 939 277 910 218 889L218 1062C318 1106 404 1160 478 1221C552 1283 606 1345 642 1409L778 1409Z" fill="#262626" transform="translate(29.97 285) scale(0.006738 -0.007062)"/>
<text x="30.38" y="253.6" font-size="13.8" fill="#262626">200</text>
<text x="53.56" y="406.6" font-size="13.8" fill="#262626">0</text>
<text x="125.42" y="406.6" font-size="13.8" fill="#262626"> 00</text>
<path d="M778 0L568 0L568 1090C527 1052 470 1012 404 975C339 939 277 910 218 889L218 1062C318 1106 404 1160 478 1221C552 1283 606 1345 642 1409L778 1409Z" fill="#262626" transform="translate(124.97 407) scale(0.006738 -0.007062)"/>
<text x="204.95" y="406.6" font-size="13.8" fill="#262626">200</text>
<text x="284.49" y="406.6" font-size="13.8" fill="#262626">300</text>
<text x="364.02" y="406.6" font-size="13.8" fill="#262626">400</text>
<text x="443.55" y="406.6" font-size="13.8" fill="#262626">500</text>
<text x="523.09" y="406.6" font-size="13.8" fill="#262626">600</text>
<text x="111.82" y="363.6" font-size="13.2" fill="#262626">-50</text>
<text x="123.56" y="325.6" font-size="13.2" fill="#262626">0</text>
<text x="116.22" y="288.6" font-size="13.2" fill="#262626">50</text>
<text x="108.88" y="250.6" font-size="13.2" fill="#262626"> 00</text>
<path d="M778 0L568 0L568 1090C527 1052 470 1012 404 975C339 939 277 910 218 889L218 1062C318 1106 404 1160 478 1221C552 1283 606 1345 642 1409L778 1409Z" fill="#262626" transform="translate(109.16 251) scale(0.006445 -0.006352)"/>
<text x="124.69" y="376.95" font-size="13.2" fill="#262626"> 00</text>
<path d="M778 0L568 0L568 1090C527 1052 470 1012 404 975C339 939 277 910 218 889L218 1062C318 1106 404 1160 478 1221C552 1283 606 1345 642 1409L778 1409Z" fill="#262626" transform="translate(125.16 377) scale(0.006445 -0.006352)"/>
<text x="167.95" y="376.95" font-size="13.2" fill="#262626">200</text>
<text x="211.21" y="376.95" font-size="13.2" fill="#262626">300</text>
<text x="254.47" y="376.95" font-size="13.2" fill="#262626">400</text>
<text x="297.73" y="376.95" font-size="13.2" fill="#262626">500</text>
<text x="340.99" y="376.95" font-size="13.2" fill="#262626">600</text>
</g>
<g transform="translate(0 204.3)" font-family="Liberation Serif, serif" fill="#000">
<text transform="translate(286.86 0) scale(1.425 1)" font-size="14.6" font-style="italic">t</text>
<text transform="translate(299.55 0) scale(1.283 1)" font-size="14.6">s</text>
</g>
<line x1="299.8" y1="193.1" x2="293.5" y2="207.8" stroke="#000" stroke-width="1"/>
<g transform="translate(0 422.8)" font-family="Liberation Serif, serif" fill="#000">
<text transform="translate(286.86 0) scale(1.425 1)" font-size="14.6" font-style="italic">t</text>
<text transform="translate(299.55 0) scale(1.283 1)" font-size="14.6">s</text>
</g>
<line x1="299.8" y1="411.6" x2="293.5" y2="426.3" stroke="#000" stroke-width="1"/>
<g transform="translate(19.2 108.3) rotate(-90)" font-family="Liberation Serif, serif" fill="#000">
<text transform="translate(-0.48 0) scale(1.296 1)" font-size="14.8" font-style="italic">τ</text>
<text x="6.08" y="2" font-size="10.4" font-style="italic">u</text>
<text transform="translate(13.76 -0.4) scale(0.866 1)" font-size="16.3">(</text>
<text transform="translate(18.41 0) scale(1.109 1)" font-size="14.8">N</text>
<text transform="translate(29.17 -0.4) scale(0.873 1)" font-size="16.3">)</text>
</g>
<circle cx="18.1" cy="302.2" r="1.15" fill="#000"/>
<g transform="translate(19.2 334.2) rotate(-90)" font-family="Liberation Serif, serif" fill="#000">
<text transform="translate(0.09 0) scale(1.370 1)" font-size="14.8" font-style="italic">τ</text>
<text transform="translate(8.21 2) scale(0.934 1)" font-size="10.4" font-style="italic">r</text>
<text transform="translate(12.12 -0.4) scale(0.794 1)" font-size="16.3">(</text>
<text transform="translate(16.79 0) scale(1.192 1)" font-size="14.8" font-style="italic">N</text>
<text x="32.89" y="0" font-size="14.8" font-style="italic">m</text>
<text transform="translate(43.96 -0.4) scale(0.897 1)" font-size="16.3">)</text>
</g>
</g>
</svg>
</body></html>
